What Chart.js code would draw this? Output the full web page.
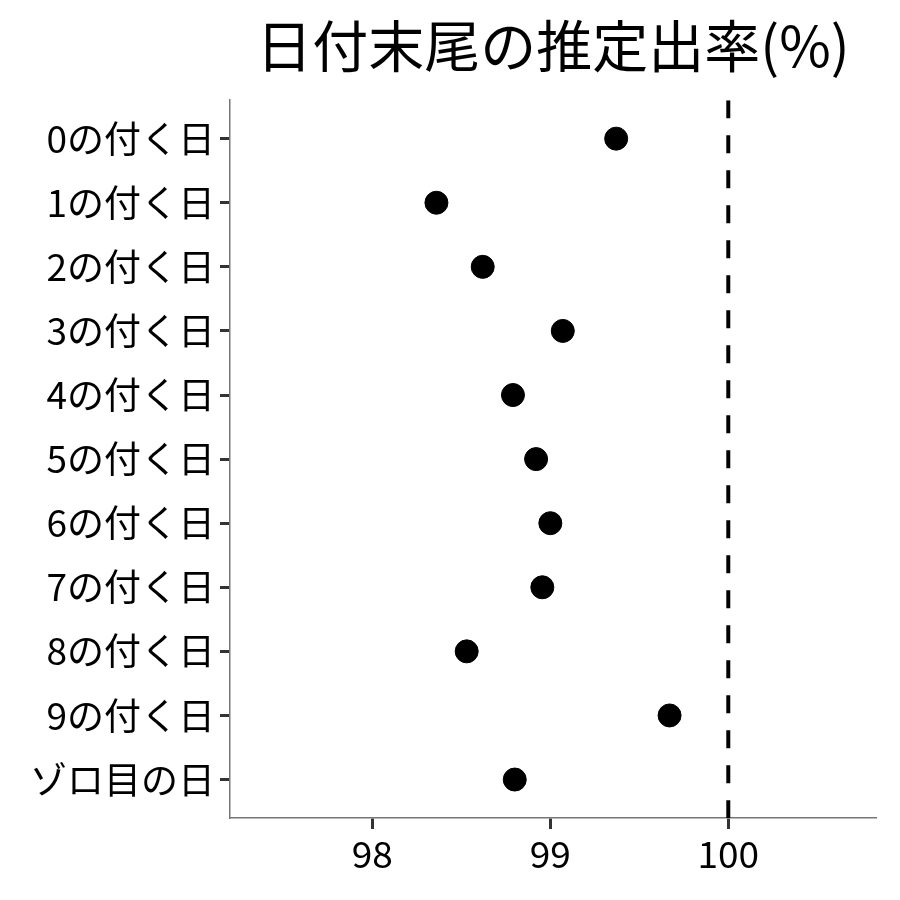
<!DOCTYPE html>
<html>
<head>
<meta charset="utf-8">
<script src="https://cdn.jsdelivr.net/npm/chart.js@4"></script>
<style>
  body { margin: 0; background: #fff; }
  #wrap { width: 900px; height: 900px; }
</style>
</head>
<body>
<div id="wrap"><canvas id="chartRate"></canvas></div>
<script>
// カテゴリ(上から順)
const dayLabels = ['0の付く日', '1の付く日', '2の付く日', '3の付く日', '4の付く日',
  '5の付く日', '6の付く日', '7の付く日', '8の付く日', '9の付く日', 'ゾロ目の日'];
// 推定出率(%)
const rates = [99.37, 98.36, 98.62, 99.07, 98.79, 98.92, 99.0, 98.955, 98.53, 99.67, 98.8];
const xTicks = [98, 99, 100];
const refValue = 100;

const font = '"Noto Sans CJK JP", "Noto Sans", sans-serif';
const yMin = -0.6;
const yMax = dayLabels.length - 1 + 0.6;

const points = rates.map((r, i) => ({ x: r, y: i }));

const ctx = document.getElementById('chartRate');
const chartRate = new Chart(ctx, {
  data: {
    datasets: [{
      type: 'scatter',
      data: points,
      backgroundColor: '#000',
      borderColor: '#000',
      pointRadius: 11.5,
      pointHoverRadius: 11.5,
      order: 1
    }, {
      // 100%の基準線
      type: 'line',
      data: [{ x: refValue, y: yMin }, { x: refValue, y: yMax }],
      borderColor: '#000',
      borderWidth: 4,
      borderDash: [18, 17],
      pointRadius: 0,
      order: 2
    }]
  },
  options: {
    responsive: true,
    maintainAspectRatio: false,
    animation: false,
    layout: { padding: { left: 0, right: 24, top: 0, bottom: 0 } },
    scales: {
      x: {
        type: 'linear',
        min: 97.2,
        max: 100.83,
        afterBuildTicks: axis => { axis.ticks = xTicks.map(v => ({ value: v })); },
        afterFit: axis => { axis.height = 82; },
        grid: { drawOnChartArea: false, tickLength: 11, tickColor: '#333', tickWidth: 3 },
        border: { color: '#777', width: 1.5 },
        ticks: { color: '#000', font: { family: font, size: 37 }, padding: 3 }
      },
      y: {
        type: 'linear',
        reverse: true,
        min: yMin,
        max: yMax,
        afterBuildTicks: axis => { axis.ticks = dayLabels.map((_, i) => ({ value: i })); },
        afterFit: axis => { axis.width = 230; },
        grid: { drawOnChartArea: false, tickLength: 10, tickColor: '#333', tickWidth: 3 },
        border: { color: '#777', width: 1.5 },
        ticks: {
          color: '#000',
          font: { family: font, size: 37 },
          padding: 5,
          callback: v => dayLabels[v]
        }
      }
    },
    plugins: {
      legend: { display: false },
      tooltip: { enabled: false },
      title: {
        display: true,
        text: '日付末尾の推定出率(%)',
        fullSize: false,
        color: '#000',
        font: { family: font, size: 56, weight: 'normal' },
        padding: { top: 12, bottom: 21 }
      }
    }
  }
});
</script>
</body>
</html>
